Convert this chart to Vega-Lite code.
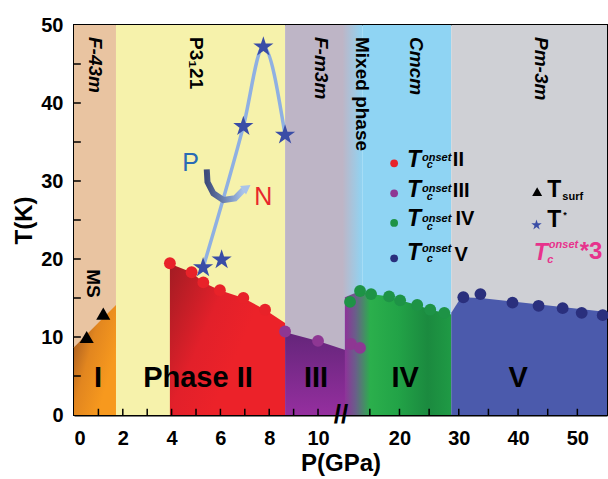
{
  "$schema": "https://vega.github.io/schema/vega-lite/v6.json",
  "width": 533,
  "height": 390,
  "autosize": {"type": "none"},
  "padding": {"left": 74, "top": 25, "right": 1, "bottom": 64},
  "background": "white",
  "config": {
    "view": {"stroke": "black", "strokeWidth": 2},
    "font": "Liberation Sans",
    "text": {"font": "Liberation Sans"},
    "axis": {
      "grid": false,
      "ticks": false,
      "domainColor": "black",
      "domainWidth": 2,
      "labelFont": "Liberation Sans",
      "labelFontSize": 20,
      "labelFontWeight": "bold",
      "labelColor": "black",
      "labelOverlap": false,
      "titleFont": "Liberation Sans",
      "titleFontSize": 24,
      "titleFontWeight": "bold",
      "titleColor": "black"
    }
  },
  "datasets": {
    "bg": [
      {"x1": 0, "x2": 1.72, "phase": "F-43m"},
      {"x1": 1.72, "x2": 8.65, "phase": "P3121"},
      {"x1": 8.65, "x2": 11.05, "phase": "F-m3m"},
      {"x1": 13.8, "x2": 28.74, "phase": "Cmcm"},
      {"x1": 28.74, "x2": 55, "phase": "Pm-3m"}
    ],
    "mixed": [{"x1": 11.0, "x2": 13.8}],
    "xticks": [
      {"P": 1}, {"P": 2}, {"P": 3}, {"P": 4}, {"P": 5}, {"P": 6}, {"P": 7}, {"P": 8}, {"P": 9}, {"P": 10},
      {"P": 15}, {"P": 20}, {"P": 25}, {"P": 30}, {"P": 35}, {"P": 40}, {"P": 45}, {"P": 50}
    ],
    "yticks": [
      {"T": 5}, {"T": 10}, {"T": 15}, {"T": 20}, {"T": 25}, {"T": 30}, {"T": 35}, {"T": 40}, {"T": 45}
    ],
    "orangeArea": [{"P": 0, "T": 8.7}, {"P": 1.72, "T": 14.1}],
    "redArea": [
      {"P": 3.93, "T": 19.4}, {"P": 4.82, "T": 18.3}, {"P": 5.3, "T": 17.0},
      {"P": 5.98, "T": 16.0}, {"P": 6.94, "T": 15.0}, {"P": 7.83, "T": 13.5},
      {"P": 8.65, "T": 11.8}
    ],
    "purpleArea": [{"P": 8.65, "T": 10.6}, {"P": 10.0, "T": 9.5}, {"P": 11.15, "T": 8.3}],
    "greenArea": [
      {"P": 11.1, "T": 15.1}, {"P": 13.35, "T": 15.9}, {"P": 15.21, "T": 15.5},
      {"P": 18.25, "T": 15.2}, {"P": 20.11, "T": 14.7}, {"P": 22.99, "T": 14.1},
      {"P": 25.19, "T": 13.5}, {"P": 27.56, "T": 13.1}, {"P": 28.74, "T": 12.9}
    ],
    "blueArea": [{"P": 28.74, "T": 13.1}, {"P": 30.4, "T": 15.1}, {"P": 33.65, "T": 15.0}, {"P": 55, "T": 13.2}],
    "tc": [
      {"P": 3.93, "T": 19.45, "s": "II"}, {"P": 4.82, "T": 18.3, "s": "II"}, {"P": 5.3, "T": 17.0, "s": "II"},
      {"P": 5.98, "T": 16.0, "s": "II"}, {"P": 6.94, "T": 15.0, "s": "II"}, {"P": 7.83, "T": 13.5, "s": "II"},
      {"P": 8.65, "T": 10.7, "s": "III"}, {"P": 10.0, "T": 9.5, "s": "III"}, {"P": 11.83, "T": 9.1, "s": "III"}, {"P": 13.35, "T": 8.6, "s": "III"},
      {"P": 11.66, "T": 14.5, "s": "IV"}, {"P": 13.35, "T": 15.9, "s": "IV"}, {"P": 15.21, "T": 15.5, "s": "IV"},
      {"P": 18.25, "T": 15.2, "s": "IV"}, {"P": 20.11, "T": 14.7, "s": "IV"}, {"P": 22.99, "T": 14.1, "s": "IV"},
      {"P": 25.19, "T": 13.5, "s": "IV"}, {"P": 27.56, "T": 13.1, "s": "IV"},
      {"P": 30.77, "T": 15.1, "s": "V"}, {"P": 33.65, "T": 15.5, "s": "V"}, {"P": 39.06, "T": 14.4, "s": "V"},
      {"P": 43.46, "T": 14.0, "s": "V"}, {"P": 47.52, "T": 13.7, "s": "V"}, {"P": 50.73, "T": 13.1, "s": "V"},
      {"P": 54.28, "T": 12.8, "s": "V"}
    ],
    "legDots": [
      {"P": 19.1, "T": 32.27, "s": "II"}, {"P": 19.1, "T": 28.42, "s": "III"},
      {"P": 19.1, "T": 24.62, "s": "IV"}, {"P": 19.1, "T": 20.09, "s": "V"}
    ],
    "tsurf": [{"P": 0.52, "T": 10.0}, {"P": 1.2, "T": 13.0}],
    "tstar": [{"P": 5.29, "T": 18.9}, {"P": 6.05, "T": 19.9}, {"P": 6.94, "T": 37.0}, {"P": 7.76, "T": 47.2}, {"P": 8.65, "T": 35.9}],
    "curve": [{"P": 5.29, "T": 18.9}, {"P": 6.94, "T": 37.0}, {"P": 7.76, "T": 47.2}, {"P": 8.65, "T": 35.9}],
    "arrow": [
      {"i": 0, "P": 5.44, "T": 31.5}, {"i": 1, "P": 5.47, "T": 29.87}, {"i": 2, "P": 5.71, "T": 28.42},
      {"i": 3, "P": 6.12, "T": 27.56}, {"i": 4, "P": 6.6, "T": 27.78}, {"i": 5, "P": 6.94, "T": 28.85}
    ],
    "arrowHead": [{"P": 7.08, "T": 29.15}],
    "legTri": [{"P": 43.22, "T": 28.63}],
    "legStar": [{"P": 43.11, "T": 24.36}],
    "rotItalic": [
      {"P": 0.88, "T": 48.46, "label": "F-43m"}, {"P": 10.14, "T": 48.46, "label": "F-m3m"},
      {"P": 22.8, "T": 48.46, "label": "Cmcm"}, {"P": 43.8, "T": 48.46, "label": "Pm-3m"}
    ],
    "rotPlain": [
      {"P": 4.98, "T": 48.46, "label": "P3₁21"}, {"P": 13.6, "T": 48.46, "label": "Mixed phase"},
      {"P": 0.76, "T": 18.7, "label": "MS"}
    ],
    "regions": [
      {"P": 0.98, "T": 3.63, "label": "I"}, {"P": 5.08, "T": 3.63, "label": "Phase II"},
      {"P": 9.92, "T": 3.63, "label": "III"}, {"P": 20.96, "T": 3.63, "label": "IV"},
      {"P": 40.0, "T": 3.63, "label": "V"}
    ],
    "legT": [
      {"P": 21.25, "T": 31.85, "label": "T"}, {"P": 21.25, "T": 27.99, "label": "T"},
      {"P": 21.25, "T": 24.23, "label": "T"}, {"P": 21.25, "T": 19.87, "label": "T"}
    ],
    "legOnset": [
      {"P": 23.8, "T": 32.6, "label": "onset"}, {"P": 23.8, "T": 28.63, "label": "onset"},
      {"P": 23.8, "T": 24.78, "label": "onset"}, {"P": 23.8, "T": 20.94, "label": "onset"}
    ],
    "legC": [
      {"P": 24.6, "T": 31.63, "label": "c"}, {"P": 24.6, "T": 27.56, "label": "c"},
      {"P": 24.6, "T": 23.72, "label": "c"}, {"P": 24.6, "T": 19.65, "label": "c"}
    ],
    "legNum": [
      {"P": 29.0, "T": 31.9, "label": "II"}, {"P": 29.0, "T": 27.99, "label": "III"},
      {"P": 29.45, "T": 24.36, "label": "IV"}, {"P": 29.3, "T": 19.78, "label": "V"}
    ],
    "legTR": [{"P": 44.92, "T": 27.99, "label": "T"}, {"P": 44.92, "T": 24.06, "label": "T"}],
    "legSub": [{"P": 47.46, "T": 27.56, "label": "surf"}],
    "legAst": [{"P": 47.63, "T": 25.2, "label": "*"}],
    "pinkT": [{"P": 42.66, "T": 19.87, "label": "T"}],
    "pinkSmall": [{"P": 45.19, "T": 21.37, "label": "onset"}, {"P": 44.92, "T": 19.45, "label": "c"}],
    "pinkX3": [{"P": 50.4, "T": 19.96, "label": "*3"}],
    "PN": [{"P": 4.78, "T": 31.32, "label": "P", "c": "P"}, {"P": 7.76, "T": 26.92, "label": "N", "c": "N"}],
    "brk": [{"P": 10.94, "T": 0, "label": "//"}]
  },
  "layer": [
    {
      "data": {"name": "bg"},
      "mark": {"type": "rect"},
      "encoding": {
        "x": {
          "field": "x1", "type": "quantitative",
          "scale": {"domain": [0, 11.2, 55], "range": [0, 273.3, 533], "nice": false, "zero": false},
          "axis": {
            "title": "P(GPa)",
            "values": [0, 2, 4, 6, 8, 10, 20, 30, 40, 50],
            "labelPadding": 13,
            "titlePadding": 3
          }
        },
        "x2": {"field": "x2"},
        "y": {
          "datum": 0, "type": "quantitative",
          "scale": {"domain": [0, 50], "nice": false, "zero": false},
          "axis": {
            "title": "T(K)",
            "values": [0, 10, 20, 30, 40, 50],
            "labelPadding": 11,
            "titlePadding": 4
          }
        },
        "y2": {"datum": 50},
        "color": {
          "field": "phase", "type": "nominal", "legend": null,
          "scale": {"domain": ["F-43m", "P3121", "F-m3m", "Cmcm", "Pm-3m"], "range": ["#E9C4A1", "#F6F2AB", "#BEB5C6", "#8FD4F3", "#CFD0D5"]}
        }
      }
    },
    {
      "data": {"name": "mixed"},
      "mark": {"type": "rect", "color": {"gradient": "linear", "x1": 0, "y1": 0, "x2": 1, "y2": 0, "stops": [{"offset": 0, "color": "#BEB5C6"}, {"offset": 1, "color": "#8FD4F3"}]}},
      "encoding": {"x": {"field": "x1", "type": "quantitative"}, "x2": {"field": "x2"}, "y": {"datum": 0, "type": "quantitative"}, "y2": {"datum": 50}}
    },
    {
      "data": {"name": "orangeArea"},
      "mark": {"type": "area", "orient": "vertical", "color": {"gradient": "linear", "x1": 0, "y1": 0.1, "x2": 0.8, "y2": 0.7, "stops": [{"offset": 0, "color": "#9A5321"}, {"offset": 0.5, "color": "#E2861F"}, {"offset": 1, "color": "#F7991E"}]}},
      "encoding": {"x": {"field": "P", "type": "quantitative"}, "y": {"field": "T", "type": "quantitative", "stack": null}, "y2": {"datum": 0}}
    },
    {
      "data": {"name": "redArea"},
      "mark": {"type": "area", "orient": "vertical", "color": {"gradient": "linear", "x1": 0, "y1": 0, "x2": 0.7, "y2": 0.4, "stops": [{"offset": 0, "color": "#A21C23"}, {"offset": 0.6, "color": "#E2202A"}, {"offset": 1, "color": "#EC2229"}]}},
      "encoding": {"x": {"field": "P", "type": "quantitative"}, "y": {"field": "T", "type": "quantitative", "stack": null}, "y2": {"datum": 0}}
    },
    {
      "data": {"name": "purpleArea"},
      "mark": {"type": "area", "orient": "vertical", "color": {"gradient": "linear", "x1": 0, "y1": 0, "x2": 0, "y2": 1, "stops": [{"offset": 0, "color": "#64257A"}, {"offset": 1, "color": "#952F9F"}]}},
      "encoding": {"x": {"field": "P", "type": "quantitative"}, "y": {"field": "T", "type": "quantitative", "stack": null}, "y2": {"datum": 0}}
    },
    {
      "data": {"name": "greenArea"},
      "mark": {"type": "area", "orient": "vertical", "color": {"gradient": "linear", "x1": 0, "y1": 0, "x2": 1, "y2": 0, "stops": [{"offset": 0, "color": "#8E3399"}, {"offset": 0.1, "color": "#6A5E8A"}, {"offset": 0.24, "color": "#2BAF4C"}, {"offset": 0.5, "color": "#22A347"}, {"offset": 0.78, "color": "#1B8A3F"}, {"offset": 1, "color": "#1F9A45"}]}},
      "encoding": {"x": {"field": "P", "type": "quantitative"}, "y": {"field": "T", "type": "quantitative", "stack": null}, "y2": {"datum": 0}}
    },
    {
      "data": {"name": "blueArea"},
      "mark": {"type": "area", "orient": "vertical", "color": "#4B5AAC"},
      "encoding": {"x": {"field": "P", "type": "quantitative"}, "y": {"field": "T", "type": "quantitative", "stack": null}, "y2": {"datum": 0}}
    },
    {
      "data": {"name": "xticks"},
      "mark": {"type": "rule", "color": "black", "strokeWidth": 1.5},
      "encoding": {"x": {"field": "P", "type": "quantitative"}, "y": {"datum": 0, "type": "quantitative"}, "y2": {"datum": 0.8}}
    },
    {
      "data": {"name": "yticks"},
      "mark": {"type": "rule", "color": "black", "strokeWidth": 1.5},
      "encoding": {"y": {"field": "T", "type": "quantitative"}, "x": {"datum": 0, "type": "quantitative"}, "x2": {"datum": 0.28}}
    },
    {
      "data": {"name": "curve"},
      "mark": {"type": "line", "interpolate": "monotone", "color": "#8FB0E2", "strokeWidth": 3.5},
      "encoding": {"x": {"field": "P", "type": "quantitative"}, "y": {"field": "T", "type": "quantitative"}}
    },
    {
      "data": {"name": "arrow"},
      "mark": {"type": "line", "strokeWidth": 6, "strokeCap": "butt", "stroke": {"gradient": "linear", "x1": 0, "y1": 0, "x2": 1, "y2": 0, "stops": [{"offset": 0, "color": "#3E4C7C"}, {"offset": 0.5, "color": "#6F86B5"}, {"offset": 1, "color": "#A9C4EA"}]}},
      "encoding": {"x": {"field": "P", "type": "quantitative"}, "y": {"field": "T", "type": "quantitative"}, "order": {"field": "i", "type": "quantitative"}}
    },
    {
      "data": {"name": "arrowHead"},
      "mark": {"type": "point", "shape": "triangle-right", "filled": true, "size": 110, "angle": -35, "color": "#A9C4EA", "opacity": 1},
      "encoding": {"x": {"field": "P", "type": "quantitative"}, "y": {"field": "T", "type": "quantitative"}}
    },
    {
      "data": {"name": "tc"},
      "mark": {"type": "point", "shape": "circle", "filled": true, "size": 140, "opacity": 1},
      "encoding": {
        "x": {"field": "P", "type": "quantitative"}, "y": {"field": "T", "type": "quantitative"},
        "color": {"field": "s", "type": "nominal", "legend": null, "scale": {"domain": ["II", "III", "IV", "V"], "range": ["#E82229", "#8E3793", "#1E9346", "#2A2F7D"]}}
      }
    },
    {
      "data": {"name": "legDots"},
      "mark": {"type": "point", "shape": "circle", "filled": true, "size": 60, "opacity": 1},
      "encoding": {
        "x": {"field": "P", "type": "quantitative"}, "y": {"field": "T", "type": "quantitative"},
        "color": {"field": "s", "type": "nominal", "legend": null, "scale": {"domain": ["II", "III", "IV", "V"], "range": ["#E82229", "#8E3793", "#1E9346", "#2A2F7D"]}}
      }
    },
    {
      "data": {"name": "tsurf"},
      "mark": {"type": "point", "shape": "triangle-up", "filled": true, "size": 200, "color": "black", "opacity": 1},
      "encoding": {"x": {"field": "P", "type": "quantitative"}, "y": {"field": "T", "type": "quantitative"}}
    },
    {
      "data": {"name": "legTri"},
      "mark": {"type": "point", "shape": "triangle-up", "filled": true, "size": 100, "color": "black", "opacity": 1},
      "encoding": {"x": {"field": "P", "type": "quantitative"}, "y": {"field": "T", "type": "quantitative"}}
    },
    {
      "data": {"name": "tstar"},
      "mark": {"type": "point", "shape": "M0,-1L0.2245,-0.309L0.951,-0.309L0.363,0.118L0.588,0.809L0,0.382L-0.588,0.809L-0.363,0.118L-0.951,-0.309L-0.2245,-0.309Z", "filled": true, "size": 450, "color": "#3A4DA6", "opacity": 1},
      "encoding": {"x": {"field": "P", "type": "quantitative"}, "y": {"field": "T", "type": "quantitative"}}
    },
    {
      "data": {"name": "legStar"},
      "mark": {"type": "point", "shape": "M0,-1L0.2245,-0.309L0.951,-0.309L0.363,0.118L0.588,0.809L0,0.382L-0.588,0.809L-0.363,0.118L-0.951,-0.309L-0.2245,-0.309Z", "filled": true, "size": 120, "color": "#3A4DA6", "opacity": 1},
      "encoding": {"x": {"field": "P", "type": "quantitative"}, "y": {"field": "T", "type": "quantitative"}}
    },
    {
      "data": {"name": "rotItalic"},
      "mark": {"type": "text", "angle": 90, "align": "left", "baseline": "middle", "fontSize": 19, "fontWeight": "bold", "fontStyle": "italic", "color": "black"},
      "encoding": {"x": {"field": "P", "type": "quantitative"}, "y": {"field": "T", "type": "quantitative"}, "text": {"field": "label"}}
    },
    {
      "data": {"name": "rotPlain"},
      "mark": {"type": "text", "angle": 90, "align": "left", "baseline": "middle", "fontSize": 19, "fontWeight": "bold", "color": "black"},
      "encoding": {"x": {"field": "P", "type": "quantitative"}, "y": {"field": "T", "type": "quantitative"}, "text": {"field": "label"}}
    },
    {
      "data": {"name": "regions"},
      "mark": {"type": "text", "align": "center", "baseline": "alphabetic", "fontSize": 29, "fontWeight": "bold", "color": "black"},
      "encoding": {"x": {"field": "P", "type": "quantitative"}, "y": {"field": "T", "type": "quantitative"}, "text": {"field": "label"}}
    },
    {
      "data": {"name": "legT"},
      "mark": {"type": "text", "align": "left", "baseline": "alphabetic", "fontSize": 23, "fontWeight": "bold", "fontStyle": "italic", "color": "black"},
      "encoding": {"x": {"field": "P", "type": "quantitative"}, "y": {"field": "T", "type": "quantitative"}, "text": {"field": "label"}}
    },
    {
      "data": {"name": "legOnset"},
      "mark": {"type": "text", "align": "left", "baseline": "alphabetic", "fontSize": 11, "fontWeight": "bold", "fontStyle": "italic", "color": "black"},
      "encoding": {"x": {"field": "P", "type": "quantitative"}, "y": {"field": "T", "type": "quantitative"}, "text": {"field": "label"}}
    },
    {
      "data": {"name": "legC"},
      "mark": {"type": "text", "align": "left", "baseline": "alphabetic", "fontSize": 11, "fontWeight": "bold", "fontStyle": "italic", "color": "black"},
      "encoding": {"x": {"field": "P", "type": "quantitative"}, "y": {"field": "T", "type": "quantitative"}, "text": {"field": "label"}}
    },
    {
      "data": {"name": "legNum"},
      "mark": {"type": "text", "align": "left", "baseline": "alphabetic", "fontSize": 20, "fontWeight": "bold", "color": "black"},
      "encoding": {"x": {"field": "P", "type": "quantitative"}, "y": {"field": "T", "type": "quantitative"}, "text": {"field": "label"}}
    },
    {
      "data": {"name": "legTR"},
      "mark": {"type": "text", "align": "left", "baseline": "alphabetic", "fontSize": 23, "fontWeight": "bold", "color": "black"},
      "encoding": {"x": {"field": "P", "type": "quantitative"}, "y": {"field": "T", "type": "quantitative"}, "text": {"field": "label"}}
    },
    {
      "data": {"name": "legSub"},
      "mark": {"type": "text", "align": "left", "baseline": "alphabetic", "fontSize": 11, "fontWeight": "bold", "color": "black"},
      "encoding": {"x": {"field": "P", "type": "quantitative"}, "y": {"field": "T", "type": "quantitative"}, "text": {"field": "label"}}
    },
    {
      "data": {"name": "legAst"},
      "mark": {"type": "text", "align": "left", "baseline": "alphabetic", "fontSize": 9, "fontWeight": "bold", "color": "black"},
      "encoding": {"x": {"field": "P", "type": "quantitative"}, "y": {"field": "T", "type": "quantitative"}, "text": {"field": "label"}}
    },
    {
      "data": {"name": "pinkT"},
      "mark": {"type": "text", "align": "left", "baseline": "alphabetic", "fontSize": 23, "fontWeight": "bold", "fontStyle": "italic", "color": "#E7328C"},
      "encoding": {"x": {"field": "P", "type": "quantitative"}, "y": {"field": "T", "type": "quantitative"}, "text": {"field": "label"}}
    },
    {
      "data": {"name": "pinkSmall"},
      "mark": {"type": "text", "align": "left", "baseline": "alphabetic", "fontSize": 11, "fontWeight": "bold", "fontStyle": "italic", "color": "#E7328C"},
      "encoding": {"x": {"field": "P", "type": "quantitative"}, "y": {"field": "T", "type": "quantitative"}, "text": {"field": "label"}}
    },
    {
      "data": {"name": "pinkX3"},
      "mark": {"type": "text", "align": "left", "baseline": "alphabetic", "fontSize": 24, "fontWeight": "bold", "color": "#E7328C"},
      "encoding": {"x": {"field": "P", "type": "quantitative"}, "y": {"field": "T", "type": "quantitative"}, "text": {"field": "label"}}
    },
    {
      "data": {"name": "PN"},
      "mark": {"type": "text", "align": "center", "baseline": "alphabetic", "fontSize": 25},
      "encoding": {
        "x": {"field": "P", "type": "quantitative"}, "y": {"field": "T", "type": "quantitative"}, "text": {"field": "label"},
        "color": {"field": "c", "type": "nominal", "legend": null, "scale": {"domain": ["P", "N"], "range": ["#2A6BB5", "#E8262B"]}}
      }
    },
    {
      "data": {"name": "brk"},
      "mark": {"type": "text", "align": "center", "baseline": "middle", "fontSize": 26, "fontWeight": "bold", "color": "black"},
      "encoding": {"x": {"field": "P", "type": "quantitative"}, "y": {"field": "T", "type": "quantitative"}, "text": {"field": "label"}}
    }
  ],
  "resolve": {"scale": {"color": "independent"}}
}
